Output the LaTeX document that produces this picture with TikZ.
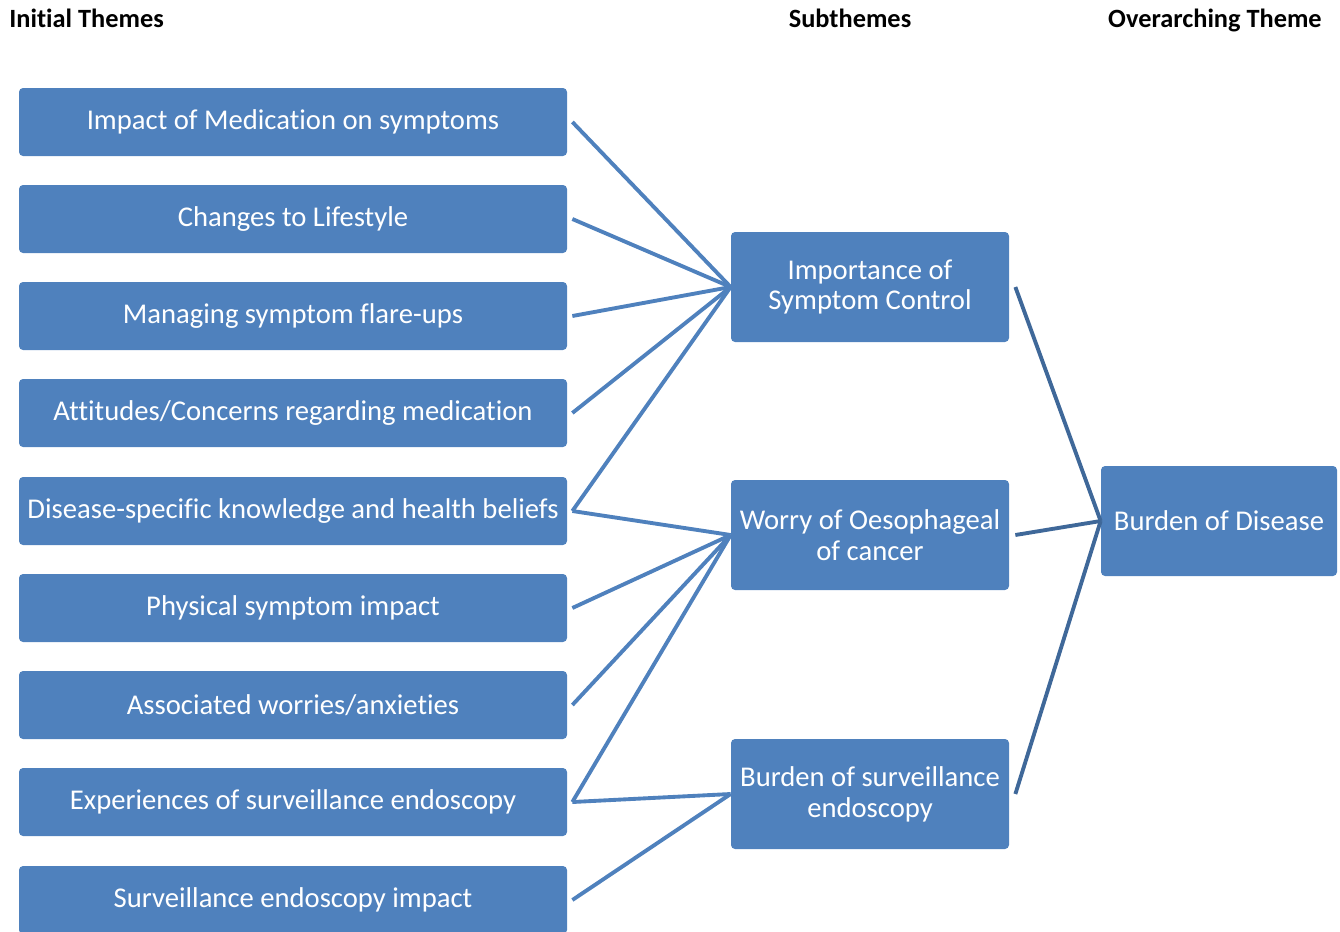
\documentclass[tikz,border=0pt]{standalone}
\usepackage{fontspec}
\setmainfont{Carlito}[Ligatures=NoCommon]
\usetikzlibrary{calc}
\definecolor{boxblue}{HTML}{4F81BD}
\definecolor{linkdark}{HTML}{3F6899}

\begin{document}
\begin{tikzpicture}[font=\fontsize{16.3}{17.6}\selectfont,
  theme/.style={fill=boxblue,text=white,rounded corners=2.3pt,
    minimum width=10.96cm,minimum height=1.36cm,inner sep=0pt},
  subtheme/.style={fill=boxblue,text=white,rounded corners=2.3pt,align=center,
    minimum width=5.56cm,minimum height=2.2cm,inner sep=0pt},
  head/.style={font=\fontsize{15}{17}\selectfont\bfseries,
    text height=1.5ex,text depth=.4ex},
  link/.style={boxblue,line width=2.2pt},
  linkr/.style={linkdark,line width=2.2pt}]
 \useasboundingbox (0,0) rectangle (26.8,-18.62);
 \clip (0,0) rectangle (26.8,-18.62);
 % column headings
 \node[head,anchor=west,inner sep=0pt] (hinit) at (0.18,-0.46) {Initial Themes};
 \node[head] (hsub) at (17.0,-0.46) {Subthemes};
 \node[head] (hover) at (24.30,-0.46) {Overarching Theme};
 % initial themes
 \node[theme] (t1) at (5.86,-2.44) {Impact of Medication on symptoms};
 \node[theme] (t2) at (5.86,-4.38) {Changes to Lifestyle};
 \node[theme] (t3) at (5.86,-6.32) {Managing symptom flare-ups};
 \node[theme] (t4) at (5.86,-8.26) {Attitudes/Concerns regarding medication};
 \node[theme] (t5) at (5.86,-10.22) {Disease-specific knowledge and health beliefs};
 \node[theme] (t6) at (5.86,-12.16) {Physical symptom impact};
 \node[theme] (t7) at (5.86,-14.10) {Associated worries/anxieties};
 \node[theme] (t8) at (5.86,-16.04) {Experiences of surveillance endoscopy};
 \node[theme] (t9) at (5.86,-18.00) {Surveillance endoscopy impact};
 % subthemes
 \node[subtheme] (symptom) at (17.40,-5.74) {Importance of\\Symptom Control};
 \node[subtheme] (worry) at (17.40,-10.70) {Worry of Oesophageal\\of cancer};
 \node[subtheme] (surv) at (17.40,-15.88) {Burden of surveillance\\endoscopy};
 % overarching theme
 \node[subtheme,minimum width=4.72cm] (burden) at (24.38,-10.42) {Burden of Disease};
 % links
 \foreach \t in {t1,t2,t3,t4,t5}
   \draw[link] ($(\t.east)+(0.1,0)$)--(symptom.west);
 \foreach \t in {t5,t6,t7,t8}
   \draw[link] ($(\t.east)+(0.1,0)$)--(worry.west);
 \foreach \t in {t8,t9}
   \draw[link] ($(\t.east)+(0.1,0)$)--(surv.west);
 \foreach \s in {symptom,worry,surv}
   \draw[linkr] ($(\s.east)+(0.12,0)$)--(burden.west);
\end{tikzpicture}
\end{document}
